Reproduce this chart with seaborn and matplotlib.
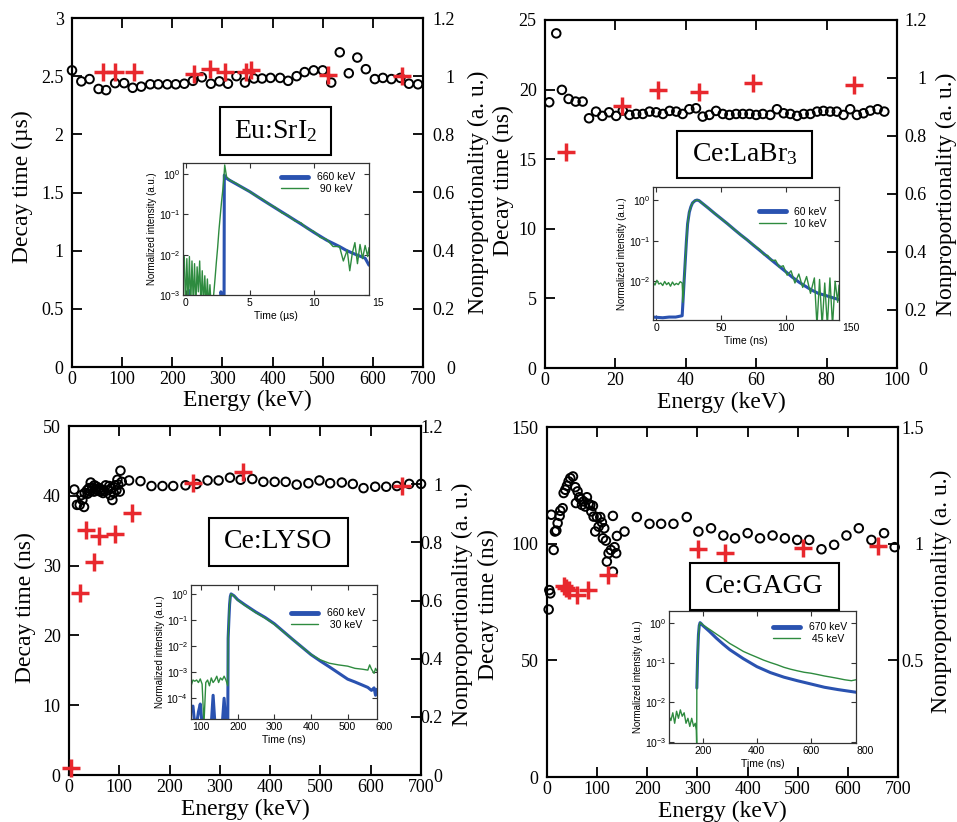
import matplotlib
matplotlib.use('Agg')
import matplotlib.pyplot as plt
from matplotlib.patches import Rectangle
from matplotlib.ticker import FuncFormatter, NullLocator
import seaborn as sns

# ---------------- data ----------------
# Eu:SrI2
sri_e = [0, 18.6, 35, 53, 68, 86, 104, 121, 138, 156, 172, 190, 207, 224, 241, 259, 277, 294, 311, 328,
         345, 363, 379, 396, 415, 431, 448, 464, 482, 500, 517, 534, 552, 569, 586, 604, 620, 637, 655, 672, 690]
sri_tau = [2.55, 2.455, 2.475, 2.39, 2.38, 2.44, 2.44, 2.40, 2.41, 2.43, 2.43, 2.43, 2.43, 2.435, 2.46, 2.49,
           2.435, 2.455, 2.435, 2.50, 2.445, 2.48, 2.48, 2.485, 2.485, 2.46, 2.50, 2.535, 2.55, 2.55, 2.445,
           2.705, 2.525, 2.66, 2.56, 2.475, 2.485, 2.475, 2.485, 2.435, 2.43]
sri_np_e = [61, 86, 123, 244, 275, 305, 348, 356, 511, 659]
sri_np = [1.013, 1.016, 1.013, 1.008, 1.024, 1.013, 1.013, 1.020, 1.005, 0.999]

# Ce:LaBr3
lab_e = [1.2, 3.2, 4.8, 6.7, 8.7, 10.7, 12.5, 14.5, 16.3, 18.2, 20.2, 22.1, 24.0, 25.9, 27.8, 29.7, 31.6,
         33.5, 35.4, 37.3, 39.1, 41.0, 42.9, 44.8, 46.7, 48.6, 50.5, 52.4, 54.3, 56.2, 58.1, 60.0, 61.9, 64.0,
         65.9, 67.8, 69.7, 71.6, 73.5, 75.4, 77.3, 79.1, 81.0, 82.9, 84.8, 86.7, 88.6, 90.5, 92.4, 94.5, 96.4]
lab_tau = [19.09, 24.04, 19.98, 19.33, 19.14, 19.14, 17.94, 18.42, 18.11, 18.37, 18.11, 18.49, 18.18, 18.25,
           18.25, 18.42, 18.37, 18.25, 18.47, 18.42, 18.25, 18.59, 18.66, 18.06, 18.18, 18.47, 18.25, 18.18,
           18.25, 18.25, 18.25, 18.18, 18.25, 18.18, 18.59, 18.30, 18.25, 18.11, 18.25, 18.25, 18.42, 18.47,
           18.42, 18.42, 18.18, 18.59, 18.18, 18.30, 18.49, 18.59, 18.42]
lab_np_e = [5.9, 21.8, 32.2, 43.8, 59.2, 87.9]
lab_np = [0.746, 0.904, 0.959, 0.953, 0.982, 0.976]

# Ce:LYSO
lyso_e = [10.6, 15.9, 21.2, 26.6, 29.9, 24.6, 31.2, 35.9, 39.8, 43.2, 46.5, 49.8, 53.1, 57.8, 62.4, 67.7,
          73.0, 77.7, 82.3, 86.3, 89.0, 84.3, 94.3, 96.3, 100.9, 102.3, 104.9, 119.5, 142.1, 164.0, 185.9,
          207.2, 231.7, 253.7, 275.6, 297.5, 320.1, 341.3, 364.5, 386.5, 409.0, 430.9, 452.8, 476.1, 498.0,
          519.3, 542.5, 564.4, 585.7, 608.9, 630.8, 652.1, 676.6, 700,
          37.0, 42.0, 50.5, 55.0, 60.0, 65.0, 70.0, 80.0, 92.0, 98.0]
lyso_tau = [40.9, 38.7, 38.7, 39.4, 38.4, 40.1, 40.4, 40.8, 41.1, 41.9, 41.2, 40.6, 40.9, 40.8, 40.6, 40.4,
            41.5, 40.8, 40.1, 39.4, 40.4, 41.1, 40.8, 42.3, 40.6, 43.6, 42.0, 42.2, 42.1, 41.4, 41.4, 41.4,
            41.5, 41.7, 42.2, 42.2, 42.6, 42.3, 42.4, 42.0, 42.0, 42.0, 41.6, 41.8, 42.2, 41.8, 41.9, 41.7,
            41.1, 41.3, 41.3, 41.4, 41.7, 41.7,
            40.3, 40.6, 41.5, 41.3, 41.1, 40.9, 40.7, 41.4, 41.5, 41.6]
lyso_np_e = [4.6, 22.6, 34.5, 49.8, 59.1, 91.0, 125.5, 245.7, 345.3, 662.0]
lyso_np = [0.023, 0.627, 0.842, 0.734, 0.822, 0.827, 0.902, 1.005, 1.043, 0.994]

# Ce:GAGG
gagg_e = [3.3, 4.6, 6.6, 8.6, 13.3, 15.9, 18.6, 21.2, 25.2, 26.5, 31.2, 33.2, 36.5, 39.8, 43.1, 46.4, 51.8,
          56.4, 57.7, 61.0, 64.4, 67.7, 69.7, 73.0, 76.3, 79.6, 82.9, 86.3, 88.3, 91.6, 92.9, 96.2, 99.5,
          102.9, 106.2, 109.5, 111.5, 114.1, 117.5, 119.4, 122.8, 127.4, 131.4, 134.7, 138.0, 131.4, 139.4,
          154.6, 179.2, 204.4, 227.6, 252.2, 278.7, 301.9, 327.1, 351.7, 375.0, 400.2, 424.8, 449.9, 474.4,
          499.0, 522.9, 547.4, 572.6, 597.2, 621.8, 647.0, 672.2, 693.4]
gagg_tau = [71.8, 80.1, 78.7, 112.4, 97.3, 105.2, 105.6, 108.8, 111.9, 114.1, 115.2, 121.7, 123.1, 124.8,
            126.7, 128.1, 128.8, 124.2, 117.4, 122.4, 119.9, 119.1, 116.6, 118.1, 115.9, 119.9, 117.1, 116.6,
            113.8, 116.2, 111.6, 105.2, 111.4, 107.3, 111.4, 109.1, 102.3, 106.6, 101.3, 92.3, 95.9, 97.3,
            88.0, 98.5, 95.9, 111.9, 103.3, 105.2, 111.4, 108.5, 108.5, 108.5, 111.4, 105.2, 106.6, 103.5,
            102.3, 104.5, 102.3, 103.5, 102.3, 101.6, 101.6, 97.6, 99.5, 103.5, 106.6, 101.6, 104.5, 98.5]
gagg_np_e = [33.2, 38.5, 43.1, 59.7, 81.0, 121.4, 301.9, 355.0, 509.6, 660.2]
gagg_np = [0.819, 0.809, 0.801, 0.780, 0.801, 0.866, 0.976, 0.959, 0.980, 0.990]

# inset decay curves (time, normalized intensity)
sri_t660 = [-0.2, 0.2, 0.25, 0.3, 0.35, 2.7, 2.75, 2.8, 2.85, 3.0, 3.02, 3.1, 3.3, 3.6, 4.0, 5.0, 6.0, 7.0,
            8.0, 9.0, 10.0, 11.0, 12.0, 12.5, 13.0, 13.5, 14.0, 14.3]
sri_i660 = [5e-4, 5e-4, 1.3e-3, 1.2e-3, 5e-4, 5e-4, 1.2e-3, 1.1e-3, 5e-4, 5e-4, 0.95, 0.85, 0.75, 0.66, 0.56,
            0.37, 0.23, 0.145, 0.092, 0.058, 0.036, 0.023, 0.016, 0.013, 0.011, 0.0095, 0.0082, 0.0055]
sri_t90 = [-0.2, -0.1, 0.0, 0.1, 0.2, 0.3, 0.4, 0.5, 0.6, 0.7, 0.8, 0.9, 1.0, 1.1, 1.2, 1.3, 1.4, 1.5, 1.6,
           1.7, 1.8, 1.9, 2.0, 2.1, 2.2, 2.3, 2.4, 2.5, 2.6, 2.7, 2.8, 2.9, 3.0, 3.05, 3.2, 3.5, 4.0, 4.5,
           5.0, 5.5, 6.0, 6.5, 7.0, 7.5, 8.0, 8.5, 9.0, 9.5, 10.0, 10.5, 11.0, 11.5, 12.0, 12.3, 12.6, 12.8,
           13.0, 13.2, 13.4, 13.6, 13.8, 14.0, 14.2, 14.3]
sri_i90 = [3e-3, 9e-3, 5e-4, 8e-3, 6e-4, 9e-3, 5e-4, 7e-3, 6e-4, 6e-3, 5e-4, 5e-3, 1.2e-3, 7e-3, 5e-4, 4e-3,
           6e-4, 3e-3, 5e-4, 2.5e-3, 5e-4, 1.8e-3, 5e-4, 5e-4, 1.1e-3, 2.6e-3, 6.5e-3, 0.015, 0.04, 0.09, 0.2,
           0.4, 0.9, 1.7, 0.85, 0.7, 0.58, 0.45, 0.37, 0.29, 0.24, 0.18, 0.15, 0.11, 0.095, 0.07, 0.062, 0.044,
           0.038, 0.027, 0.024, 0.016, 0.016, 0.007, 0.013, 0.004, 0.011, 0.02, 0.006, 0.018, 0.008, 0.017,
           0.009, 0.015]

lab_t60 = [-2.5, 5, 10, 15, 20, 20.6, 21.5, 22.4, 23.3, 24.2, 25.5, 26.7, 28, 30, 31.5, 33, 35, 40, 45, 50,
           55, 60, 65, 70, 75, 80, 85, 90, 95, 100, 105, 110, 115, 120, 125, 130, 135, 141]
lab_i60 = [1.3e-3, 1.25e-3, 1.3e-3, 1.3e-3, 1.4e-3, 3e-3, 0.01, 0.032, 0.1, 0.26, 0.5, 0.68, 0.85, 0.97, 1.0,
           0.97, 0.86, 0.64, 0.47, 0.35, 0.26, 0.19, 0.14, 0.105, 0.077, 0.057, 0.042, 0.031, 0.023, 0.017,
           0.0125, 0.0095, 0.0075, 0.006, 0.005, 0.0045, 0.004, 0.0035]
lab_t10 = [-2.5, -1, 0.5, 2, 3.5, 5, 6.5, 8, 9.5, 11, 12.5, 14, 15.5, 17, 18.5, 20, 20.6, 21.5, 22.4, 23.3,
           24.2, 25.5, 26.7, 28, 30, 31.5, 33, 35, 40, 45, 50, 55, 60, 65, 70, 75, 80, 83, 86, 89, 92, 95, 98,
           101, 104, 107, 110, 113, 116, 119, 122, 124, 126, 128, 130, 132, 134, 136, 138, 140, 141]
lab_i10 = [0.0095, 0.008, 0.0105, 0.0085, 0.009, 0.0078, 0.0098, 0.0082, 0.0092, 0.0075, 0.0095, 0.008,
           0.0088, 0.0082, 0.0097, 0.009, 3e-3, 0.01, 0.032, 0.1, 0.26, 0.5, 0.68, 0.85, 0.97, 1.0, 0.97, 0.86,
           0.64, 0.47, 0.35, 0.26, 0.19, 0.14, 0.105, 0.078, 0.06, 0.045, 0.043, 0.032, 0.033, 0.022, 0.024,
           0.014, 0.018, 0.009, 0.015, 0.007, 0.013, 0.005, 0.012, 8e-4, 0.011, 8e-4, 0.009, 8e-4, 0.012,
           8e-4, 0.01, 0.003, 0.008]

lyso_t660 = [73, 78, 83, 88, 93, 98, 103, 108, 113, 118, 123, 128, 133, 138, 143, 148, 153, 158, 163, 168,
             173, 174, 176, 178, 180, 182, 190, 200, 220, 250, 275, 300, 325, 350, 375, 400, 425, 450, 475,
             500, 520, 540, 555, 565, 572, 576, 580]
lyso_i660 = [4e-5, 5e-5, 1e-5, 1e-5, 3e-5, 6e-5, 1e-5, 1e-5, 1e-5, 1e-5, 1e-5, 1e-5, 1.3e-4, 1e-5, 1e-5,
             1e-5, 1e-5, 1e-5, 1e-4, 1e-5, 1e-5, 0.02, 0.1, 0.4, 0.8, 1.0, 0.85, 0.6, 0.38, 0.2, 0.125, 0.072,
             0.036, 0.018, 0.0092, 0.0047, 0.0027, 0.0016, 9.3e-4, 5.4e-4, 4.2e-4, 3.2e-4, 2.6e-4, 2e-4,
             2.5e-4, 1.3e-4, 2.2e-4]
lyso_t30 = [73, 78, 83, 88, 93, 98, 103, 108, 113, 118, 123, 128, 133, 138, 143, 148, 153, 158, 163, 168,
            173, 174, 176, 178, 180, 182, 190, 200, 220, 250, 275, 300, 325, 350, 375, 400, 425, 450, 475,
            500, 520, 540, 555, 560, 565, 572, 576, 580]
lyso_i30 = [3e-4, 5e-4, 4.5e-4, 5e-4, 4e-4, 5.5e-4, 3.5e-4, 1e-5, 4e-4, 5e-4, 3e-4, 6e-4, 4e-4, 5e-4, 7e-4,
            4e-4, 6e-4, 5e-4, 7e-4, 5e-4, 3e-4, 0.02, 0.1, 0.4, 0.8, 1.0, 0.83, 0.58, 0.36, 0.19, 0.118, 0.068,
            0.035, 0.018, 0.0092, 0.0048, 0.003, 0.0022, 0.0019, 0.0017, 0.0014, 0.0013, 0.0012, 0.0019,
            0.0013, 0.0009, 0.0014, 0.0011]

gagg_t670 = [178, 181, 184, 187, 190, 195, 200, 225, 250, 275, 300, 350, 400, 450, 500, 550, 600, 650, 700, 767]
gagg_i670 = [0.023, 0.15, 0.5, 0.85, 1.0, 0.93, 0.85, 0.6, 0.41, 0.29, 0.21, 0.125, 0.079, 0.056, 0.043,
             0.035, 0.029, 0.024, 0.021, 0.018]
gagg_t45 = [75, 82, 89, 96, 103, 110, 117, 124, 131, 138, 145, 152, 159, 166, 172, 176, 177.5, 178, 181,
            184, 187, 190, 195, 200, 225, 250, 275, 300, 325, 350, 375, 400, 425, 450, 475, 500, 525, 550,
            575, 600, 625, 650, 675, 700, 725, 750, 767]
gagg_i45 = [4.5e-3, 3.5e-3, 5.5e-3, 3e-3, 6e-3, 4e-3, 6.5e-3, 4.5e-3, 5.5e-3, 3e-3, 4e-3, 2.5e-3, 4e-3,
            2.5e-3, 3e-3, 2e-3, 8e-4, 0.023, 0.15, 0.5, 0.85, 1.0, 0.95, 0.88, 0.68, 0.52, 0.4, 0.3, 0.24,
            0.19, 0.16, 0.136, 0.115, 0.1, 0.088, 0.076, 0.068, 0.062, 0.057, 0.054, 0.05, 0.046, 0.043,
            0.04, 0.037, 0.035, 0.037]

# ---------------- style ----------------
sns.set_style('ticks')
plt.rcParams['font.family'] = ['Liberation Serif', 'DejaVu Serif']
plt.rcParams['mathtext.default'] = 'regular'
for k in ['axes.edgecolor', 'xtick.color', 'ytick.color', 'text.color', 'axes.labelcolor']:
    plt.rcParams[k] = 'black'

W, H = 957, 822
fig = plt.figure(figsize=(W / 100, H / 100), dpi=100)

RED = '#e8282e'
BLUE = '#2a52b0'
GREEN = '#2e8b3f'
SANS = ['Liberation Sans', 'DejaVu Sans']
num = FuncFormatter(lambda v, p: f'{v:g}')


def px_rect(l, t, r, b):
    return [l / W, 1 - b / H, (r - l) / W, (b - t) / H]


def main_panel(rect, e_tau, tau, e_np, np_vals, xticks, yticks, rticks, rlim, ylabel, pos, rpad):
    ax = fig.add_axes(px_rect(*rect))
    ax2 = ax.twinx()
    sns.scatterplot(x=e_tau, y=tau, ax=ax, marker='o', s=38, facecolors='none', edgecolor='black',
                    linewidth=1.4, clip_on=False, zorder=3)
    sns.scatterplot(x=e_np, y=np_vals, ax=ax2, marker='+', s=170, color=RED, linewidth=2.5,
                    clip_on=False, zorder=3)
    ax.set_xlim(xticks[0], xticks[-1])
    ax.set_ylim(yticks[0], yticks[-1])
    ax2.set_ylim(*rlim)
    ax.set_xticks(xticks)
    ax.set_yticks(yticks)
    ax2.set_yticks(rticks)
    for a in (ax.xaxis, ax.yaxis, ax2.yaxis):
        a.set_major_formatter(num)
    ax.tick_params(axis='x', direction='in', length=7, width=1.3, labelsize=13, top=True, pad=3)
    ax.tick_params(axis='y', direction='in', length=7, width=1.3, labelsize=13, right=False, pad=6)
    # right-hand numbers are right-aligned in the original
    ax2.tick_params(axis='y', direction='in', length=7, width=1.3, labelsize=13, pad=rpad)
    plt.setp(ax2.get_yticklabels(), ha='right')
    for a in (ax, ax2):
        for s in a.spines.values():
            s.set_linewidth(1.5)
    ax.set_xlabel('Energy (keV)', fontsize=17, va='center')
    ax.xaxis.set_label_coords(0.5, pos[2])
    ax.set_ylabel(ylabel, fontsize=17, va='center')
    ax.yaxis.set_label_coords(pos[0], pos[1])
    ax2.set_ylabel('Nonproportionality (a. u.)', fontsize=17, va='center')
    ax2.yaxis.set_label_coords(pos[3], pos[4])


def inset(rect, t_hi, i_hi, lab_hi, t_lo, i_lo, lab_lo, xlim, xticks, last_tick, ylim, yticks, ylabels,
          unit, anchor):
    ax = fig.add_axes(px_rect(*rect))
    ax.set_yscale('log')
    sns.lineplot(x=t_hi, y=i_hi, ax=ax, color=BLUE, linewidth=2.2, estimator=None, sort=False, label=lab_hi)
    sns.lineplot(x=t_lo, y=i_lo, ax=ax, color=GREEN, linewidth=1, estimator=None, sort=False, label=lab_lo)
    ax.set_xlim(*xlim)
    ax.set_ylim(*ylim)
    ax.set_xticks(xticks, labels=[f'{v:g}' for v in xticks], fontsize=7.5, family=SANS)
    ax.set_yticks(yticks, labels=ylabels, fontsize=7.5, family=SANS)
    ax.yaxis.set_minor_locator(NullLocator())
    ax.tick_params(direction='in', length=3.5, width=0.8, top=True, right=True, pad=2, color='#333333')
    ax.annotate(f'{last_tick:g}', xy=(last_tick, 0), xycoords=('data', 'axes fraction'), xytext=(0, -2),
                textcoords='offset points', ha='center', va='top', fontsize=7.5, family=SANS,
                annotation_clip=False)
    for s in ax.spines.values():
        s.set_linewidth(0.9)
        s.set_color('#333333')
    ax.set_xlabel(f'Time ({unit})', fontsize=7.5, family=SANS, labelpad=2)
    ax.set_ylabel('Normalized intensity (a.u.)', fontsize=7, family=SANS, labelpad=1)
    leg = ax.legend(loc='upper right', bbox_to_anchor=anchor, frameon=False, handlelength=2.6,
                    labelspacing=0.15, borderaxespad=0, prop={'family': SANS, 'size': 7.5})
    leg.get_lines()[0].set_linewidth(3.5)


r12 = [0, 0.2, 0.4, 0.6, 0.8, 1.0, 1.2]
x700 = [0, 100, 200, 300, 400, 500, 600, 700]

main_panel((72, 18, 423, 367), sri_e, sri_tau, sri_np_e, sri_np, x700,
           [0, 0.5, 1, 1.5, 2, 2.5, 3], r12, (0, 1.2), 'Decay time (µs)',
           (-0.1425, 0.516, -0.097, 1.157, 0.5), 23)
main_panel((545, 20, 897, 368), lab_e, lab_tau, lab_np_e, lab_np, [0, 20, 40, 60, 80, 100],
           [0, 5, 10, 15, 20, 25], r12, (0, 1.2), 'Decay time (ns)',
           (-0.119, 0.54, -0.099, 1.139, 0.5), 21.5)
main_panel((69, 426, 421, 775), lyso_e, lyso_tau, lyso_np_e, lyso_np, x700,
           [0, 10, 20, 30, 40, 50], r12, (0, 1.2), 'Decay time (ns)',
           (-0.125, 0.48, -0.1, 1.119, 0.49), 15.5)
main_panel((547, 427, 898, 777), gagg_e, gagg_tau, gagg_np_e, gagg_np, x700,
           [0, 50, 100, 150], [0.5, 1.0, 1.5], (0, 1.5), 'Decay time (ns)',
           (-0.168, 0.494, -0.097, 1.125, 0.53), 18.5)

dec = {1: '$10^{0}$', 0.1: '$10^{-1}$', 0.01: '$10^{-2}$', 0.001: '$10^{-3}$', 0.0001: '$10^{-4}$'}

inset((183, 163, 369, 295), sri_t660, sri_i660, '660 keV', sri_t90, sri_i90, ' 90 keV',
      (-0.2, 14.3), [0, 5, 10], 15, (1e-3, 1.9), [1e-3, 1e-2, 1e-1, 1],
      [dec[v] for v in [0.001, 0.01, 0.1, 1]], 'µs', (0.946, 0.962))
inset((653, 187, 839, 320), lab_t60, lab_i60, '60 keV', lab_t10, lab_i10, '10 keV',
      (-2.5, 141), [0, 50, 100], 150, (1.1e-3, 2.1), [1e-2, 1e-1, 1],
      [dec[v] for v in [0.01, 0.1, 1]], 'ns', (0.957, 0.88))
inset((191, 585, 377, 719), lyso_t660, lyso_i660, '660 keV', lyso_t30, lyso_i30, ' 30 keV',
      (72.7, 580), [100, 200, 300, 400, 500], 600, (1.6e-5, 2.2), [1e-4, 1e-3, 1e-2, 1e-1, 1],
      [dec[v] for v in [0.0001, 0.001, 0.01, 0.1, 1]], 'ns', (0.957, 0.858))
inset((669, 611, 856, 743), gagg_t670, gagg_i670, '670 keV', gagg_t45, gagg_i45, ' 45 keV',
      (75, 767), [200, 400, 600], 800, (9.6e-4, 1.96), [1e-3, 1e-2, 1e-1, 1],
      [dec[v] for v in [0.001, 0.01, 0.1, 1]], 'ns', (0.973, 0.947))

# crystal name boxes
boxes = [(220, 107, 331, 155, 'Eu:SrI$_2$'),
         (677, 131, 812, 178, 'Ce:LaBr$_3$'),
         (209, 518, 348, 566, 'Ce:LYSO'),
         (690, 563, 839, 610, 'Ce:GAGG')]
for l, t, r, b, name in boxes:
    fig.add_artist(Rectangle((l / W, 1 - b / H), (r - l) / W, (b - t) / H, transform=fig.transFigure,
                             facecolor='white', edgecolor='black', linewidth=1.5, zorder=5))
    fig.text((l + r) / 2 / W, 1 - (t + b) / 2 / H, name, ha='center', va='center', fontsize=20, zorder=6)

fig.savefig('out.png', dpi=100)
